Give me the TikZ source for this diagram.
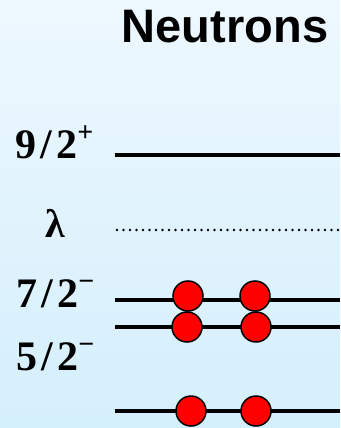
\documentclass[tikz,border=0pt]{standalone}
\usepackage{fontspec}
\setmainfont{Liberation Serif}
\newfontfamily\headfont{Liberation Sans}
\usetikzlibrary{positioning}
\definecolor{bgtop}{RGB}{238,248,255}
\definecolor{bgbot}{RGB}{212,239,252}
\newcommand{\spinlab}[2]{#1\hspace{0.1em}/\hspace{0.1em}2\raisebox{0.4em}{\fontsize{28}{28}\selectfont #2}}
\tikzset{
  level/.style={line width=3.4pt},
  fermi/.style={line width=2.8pt, dash pattern=on 0pt off 6.5pt, line cap=round},
  electron/.style={circle, draw, fill=red, line width=1.5pt, minimum size=30pt, inner sep=0pt},
  spin/.style={anchor=base west, inner sep=0pt, font=\fontsize{42}{42}\selectfont\bfseries},
  title/.style={anchor=base, inner sep=0pt, font=\fontsize{47}{47}\selectfont\headfont\bfseries},
}

\begin{document}
\begin{tikzpicture}[x=1pt, y=-1pt]
    \shade[top color=bgtop, bottom color=bgbot] (0,0) rectangle (340,428);
    \useasboundingbox (0,0) rectangle (340,428);
    \node[title] (head) at (225,43) {Neutrons};
    % labels
    \node[spin] (j92) at (15,158) {\spinlab{9}{+}};
    \node[anchor=base, inner sep=0pt, font=\fontsize{40}{40}\selectfont\bfseries] (lam) at (55,237) {λ};
    \node[spin] (j72) at (16,307) {\spinlab{7}{−}};
    \node[spin] (j52) at (16,370) {\spinlab{5}{−}};
    % levels
    \coordinate (a1) at (115,155);  \coordinate (b1) at (340,155);
    \coordinate (a2) at (117,230);  \coordinate (b2) at (340,230);
    \coordinate (a3) at (115,300);  \coordinate (b3) at (340,300);
    \coordinate (a4) at (115,327);  \coordinate (b4) at (340,327);
    \coordinate (a5) at (115,411);  \coordinate (b5) at (340,411);
    \draw[level] (a1) -- (b1);
    \draw[fermi] (a2) -- (b2);
    \draw[level] (a3) -- (b3);
    \draw[level] (a4) -- (b4);
    \draw[level] (a5) -- (b5);
    % paired neutrons
    \node[electron] (n3a) at (188,296) {};
    \node[electron] (n3b) at (255,296) {};
    \node[electron] (n4a) at (187,327) {};
    \node[electron] (n4b) at (256,327) {};
    \node[electron] (n5a) at (191,411) {};
    \node[electron] (n5b) at (256,411) {};
  \end{tikzpicture}
\end{document}
